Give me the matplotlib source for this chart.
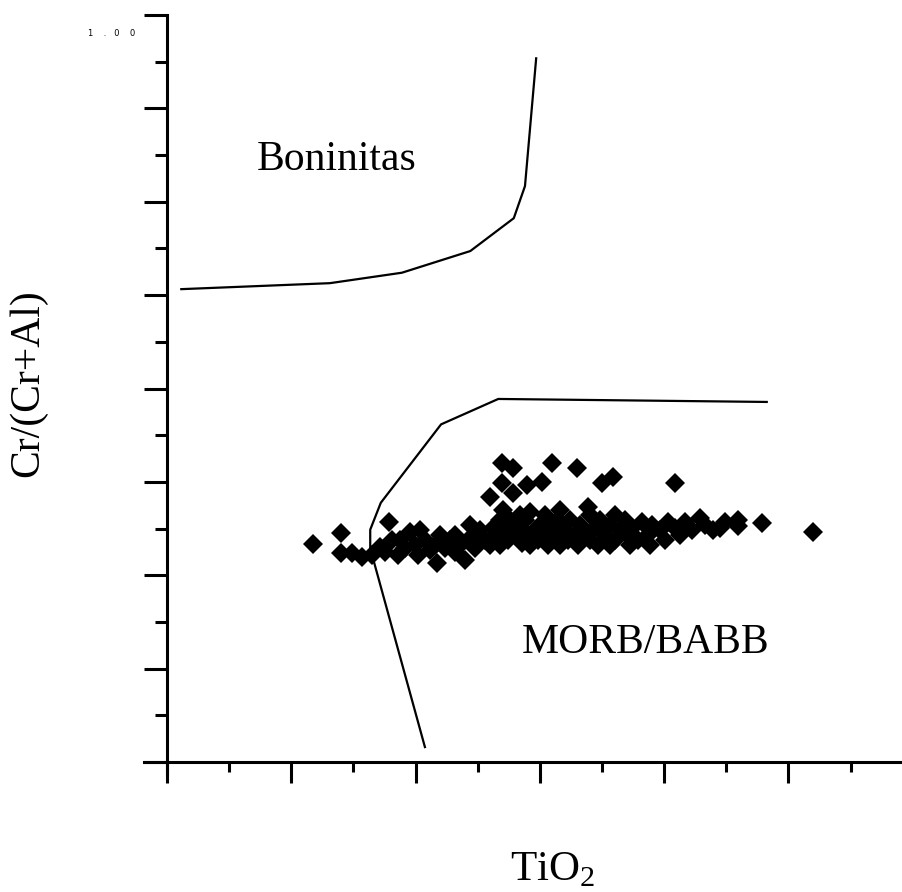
import matplotlib
matplotlib.use("Agg")
import matplotlib.pyplot as plt

plt.rcParams['font.family'] = ['Liberation Serif', 'DejaVu Serif']
plt.rcParams['mathtext.fontset'] = 'custom'
plt.rcParams['mathtext.rm'] = 'Liberation Serif'

# field boundaries (TiO2, Cr/(Cr+Al))
boninite_tio2 = [0.023, 0.262, 0.378, 0.488, 0.558, 0.576, 0.594]
boninite_cr = [0.633, 0.641, 0.655, 0.684, 0.728, 0.771, 0.942]

morb_tio2 = [0.965, 0.533, 0.441, 0.344, 0.327, 0.327, 0.415]
morb_cr = [0.482, 0.486, 0.452, 0.347, 0.311, 0.286, 0.020]

# samples
sample_tio2 = [
    0.235, 0.280, 0.280, 0.298, 0.314, 0.330, 0.343, 0.357, 0.362, 0.372,
    0.383, 0.391, 0.399, 0.404, 0.415, 0.423, 0.434, 0.439, 0.447, 0.455,
    0.463, 0.471, 0.479, 0.488, 0.496, 0.504, 0.512, 0.520, 0.525, 0.528,
    0.536, 0.541, 0.544, 0.549, 0.552, 0.557, 0.560, 0.568, 0.571, 0.576,
    0.581, 0.584, 0.592, 0.597, 0.600, 0.608, 0.613, 0.616, 0.624, 0.629,
    0.632, 0.640, 0.645, 0.648, 0.656, 0.661, 0.665, 0.673, 0.677, 0.681,
    0.689, 0.693, 0.697, 0.705, 0.713, 0.721, 0.729, 0.737, 0.742, 0.748,
    0.758, 0.764, 0.774, 0.780, 0.793, 0.806, 0.817, 0.833, 0.845, 0.858,
    0.879, 0.919, 0.919, 0.957, 1.039,
    0.539, 0.557, 0.619, 0.660, 0.539, 0.579, 0.603, 0.520, 0.557, 0.700,
    0.718, 0.817,
    0.536, 0.568, 0.608, 0.632, 0.665, 0.713, 0.745, 0.777, 0.584, 0.681,
    0.721, 0.488, 0.463, 0.431, 0.407, 0.375, 0.351, 0.801, 0.825, 0.866,
    0.890, 0.898,
]
sample_cr = [
    0.292, 0.307, 0.280, 0.280, 0.274, 0.277, 0.288, 0.321, 0.297, 0.277,
    0.286, 0.308, 0.290, 0.277, 0.297, 0.284, 0.266, 0.304, 0.286, 0.297,
    0.281, 0.290, 0.270, 0.300, 0.286, 0.311, 0.297, 0.290, 0.313, 0.304,
    0.324, 0.337, 0.311, 0.297, 0.324, 0.317, 0.304, 0.311, 0.293, 0.324,
    0.304, 0.290, 0.311, 0.297, 0.317, 0.304, 0.290, 0.313, 0.300, 0.324,
    0.290, 0.311, 0.297, 0.324, 0.304, 0.290, 0.317, 0.308, 0.341, 0.297,
    0.313, 0.290, 0.324, 0.304, 0.317, 0.297, 0.311, 0.324, 0.304, 0.313,
    0.297, 0.321, 0.304, 0.317, 0.311, 0.321, 0.313, 0.321, 0.311, 0.327,
    0.311, 0.324, 0.316, 0.320, 0.308,
    0.400, 0.394, 0.400, 0.394, 0.373, 0.371, 0.375, 0.355, 0.360, 0.373,
    0.382, 0.373,
    0.290, 0.331, 0.331, 0.337, 0.297, 0.290, 0.290, 0.290, 0.335, 0.331,
    0.331, 0.317, 0.304, 0.290, 0.311, 0.297, 0.281, 0.297, 0.304, 0.317,
    0.313, 0.321,
]

fig = plt.figure(figsize=(9.03, 8.92), dpi=100)
ax = fig.add_axes([167 / 903, 130 / 892, 736 / 903, 747 / 892])

ax.plot(boninite_tio2, boninite_cr, color='black', lw=1.6)
ax.plot(morb_tio2, morb_cr, color='black', lw=1.6)
ax.plot(sample_tio2, sample_cr, 'D', color='black', markersize=10, markeredgewidth=0)

ax.text(0.145, 0.792, "Boninitas", fontsize=30)
ax.text(0.571, 0.146, "MORB/BABB", fontsize=30)

ax.set_xlim(0, 736 / 621.5)
ax.set_ylim(0, 1)

for s in ax.spines.values():
    s.set_visible(False)
# axis lines, slightly crossing at the origin
ax.plot([-23 / 736, 1], [0, 0], color='black', lw=2.2, transform=ax.transAxes, clip_on=False)
ax.plot([0, 0], [-11 / 747, 1], color='black', lw=2.2, transform=ax.transAxes, clip_on=False)

ax.set_xticks([0.2 * i for i in range(6)])
ax.set_xticks([0.1 + 0.2 * i for i in range(6)], minor=True)
ax.set_yticks([0.125 * i for i in range(9)])
ax.set_yticks([0.0625 + 0.125 * i for i in range(8)], minor=True)
ax.tick_params(axis='x', which='major', direction='out', length=15, width=2.2)
ax.tick_params(axis='x', which='minor', direction='out', length=7.5, width=2.2)
ax.tick_params(axis='y', which='major', direction='out', length=16.5, width=2.2)
ax.tick_params(axis='y', which='minor', direction='out', length=8.5, width=2.2)
ax.set_xticklabels([])
ax.set_yticklabels([])

fig.text(112 / 903, 1 - 34 / 892, "1    .   0    0", fontsize=6,
         family='DejaVu Sans', ha='center', va='center')
fig.text(28 / 903, 1 - 383 / 892, "Cr/(Cr+Al)", fontsize=30, rotation=90,
         ha='center', va='center')
fig.text(553 / 903, 1 - 870 / 892, "TiO$_2$", fontsize=31, ha='center', va='center')

fig.savefig("out.png", dpi=100)
